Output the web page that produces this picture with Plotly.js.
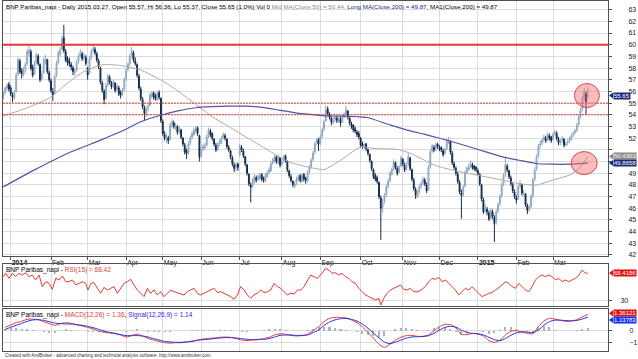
<!DOCTYPE html>
<html><head><meta charset="utf-8">
<script src="https://cdn.plot.ly/plotly-3.0.1.min.js"></script>
<style>html,body{margin:0;padding:0;background:#fff;}#chart{width:638px;height:359px;}</style>
</head><body><div id="chart"></div>
<script>
// ---- daily OHLC (trading days 2013-12-24 .. 2015-03-27) ----
const openP = [
55.6,55.9,56.3,56.6,56.3,55.7,55.4,56.0,57.5,58.6,
57.8,57.4,57.9,58.4,59.3,59.4,58.1,57.5,58.5,59.0,
58.3,57.1,57.6,58.6,58.7,57.6,56.9,56.0,55.9,57.4,
58.5,59.2,59.6,60.6,59.4,58.8,58.6,58.3,58.0,57.6,
57.8,58.6,59.1,59.2,58.9,58.9,58.0,57.6,58.9,59.5,
59.6,59.2,58.6,58.0,56.7,56.0,55.4,56.6,57.2,56.7,
56.5,56.7,56.2,56.3,55.9,55.8,56.2,57.1,57.9,58.4,
59.1,59.3,58.6,58.3,57.3,56.2,55.3,54.6,54.0,54.6,
54.8,55.6,55.9,55.6,55.3,55.9,55.4,53.4,52.3,51.9,
52.0,51.9,53.2,53.3,52.9,53.0,52.6,52.7,52.0,51.4,
50.9,50.8,51.6,52.1,52.3,52.6,52.9,52.2,50.5,51.1,
51.2,51.4,52.2,52.6,52.4,51.9,51.4,51.1,51.5,51.6,
52.1,52.2,51.9,51.2,50.9,50.3,49.7,49.5,49.8,50.6,
51.2,50.9,50.4,49.7,48.9,48.0,47.9,48.3,48.6,48.5,
48.6,48.9,48.6,48.3,48.7,49.1,49.2,49.9,50.0,50.4,
49.9,50.3,49.8,50.1,50.5,50.0,49.2,48.7,48.3,47.9,
48.2,48.4,48.8,48.3,48.9,48.6,48.3,49.1,49.6,50.2,
50.8,51.6,51.9,51.6,52.2,52.8,53.5,54.5,54.0,53.7,
53.3,53.6,53.7,53.4,53.6,53.4,53.9,54.1,54.3,53.7,
53.2,53.1,52.8,52.5,52.4,52.0,51.5,51.2,51.5,51.0,
50.6,50.0,49.3,48.8,48.6,48.2,46.9,46.1,46.6,47.2,
47.9,48.4,48.9,49.4,49.9,49.4,49.1,49.6,50.2,49.7,
49.4,49.8,50.3,49.3,48.4,47.6,47.0,47.4,47.9,48.2,
48.4,48.0,47.6,49.6,50.9,51.2,51.1,51.5,51.2,51.2,
50.9,50.7,51.1,51.6,51.7,50.7,49.8,49.4,48.9,48.2,
47.3,47.2,47.9,49.1,49.3,49.6,49.7,49.6,49.5,49.2,
48.9,48.0,46.7,45.8,45.9,45.6,45.2,45.7,45.2,44.8,
45.8,46.4,47.1,48.1,48.9,49.6,49.2,48.6,48.0,47.4,
46.9,46.8,47.9,48.0,47.2,47.2,46.2,45.9,46.2,47.1,
48.5,49.4,50.5,51.4,51.6,51.9,52.0,51.9,52.2,52.1,
51.9,52.4,52.4,51.9,51.6,51.8,51.9,51.4,51.6,51.8,
51.9,52.3,52.5,52.7,53.2,53.9,54.5,55.5,55.8,55.57];
const highP = [
56.0,56.4,56.7,56.8,56.5,55.9,56.1,57.6,58.9,58.8,
58.0,58.1,58.5,59.6,59.9,59.6,58.3,58.6,59.3,59.2,
58.4,57.8,58.9,59.1,58.8,57.8,57.1,56.3,57.5,58.6,
59.5,59.8,60.8,61.7,59.6,59.0,58.9,58.5,58.2,58.0,
58.7,59.2,59.6,59.4,59.3,59.1,58.1,59.0,59.6,60.0,
59.8,59.4,58.8,58.1,56.9,56.2,56.7,57.5,57.4,56.9,
57.0,56.8,56.7,56.5,56.1,56.3,57.2,58.0,58.5,59.2,
59.8,59.5,58.9,58.4,57.5,56.4,55.5,54.8,54.7,55.0,
55.9,56.0,56.0,55.8,56.0,56.1,55.5,53.6,52.6,52.4,
52.2,53.3,53.6,53.5,53.3,53.1,53.0,52.8,52.1,51.6,
51.1,51.7,52.2,52.6,52.9,53.0,53.0,52.3,51.2,51.5,
51.6,52.3,52.9,52.8,52.5,52.0,51.6,51.6,51.9,52.2,
52.5,52.4,52.0,51.4,51.0,50.5,49.9,49.9,49.9,51.5,
51.4,51.1,50.5,49.8,49.0,48.2,48.6,48.9,48.8,48.9,
49.0,49.0,48.7,49.0,49.2,49.5,50.0,50.3,50.6,50.5,
50.6,50.4,50.2,50.6,50.6,50.1,49.3,48.9,48.4,48.3,
48.7,48.9,48.9,49.0,49.0,48.7,49.2,49.7,50.3,50.9,
51.7,52.0,52.0,52.3,52.9,53.6,54.8,54.7,54.2,53.9,
53.8,54.0,53.9,53.9,53.8,54.0,54.2,54.8,54.4,53.8,
53.4,53.2,53.0,52.7,52.6,52.1,51.7,51.6,51.6,51.1,
50.7,50.1,49.4,49.0,48.8,48.3,47.1,46.8,47.3,48.0,
48.5,49.2,49.5,50.2,50.0,49.6,49.7,50.5,50.3,49.9,
49.9,50.7,50.4,49.4,48.6,47.8,47.5,48.0,48.3,48.7,
48.6,48.2,49.7,51.0,51.5,51.4,51.6,51.6,51.4,51.3,
51.1,51.2,51.9,52.1,51.8,50.9,50.0,49.6,49.1,48.4,
47.6,48.0,49.2,49.6,49.8,50.1,49.9,49.7,49.6,49.4,
49.0,48.1,46.9,46.3,46.1,45.8,46.0,45.9,45.4,45.9,
46.5,47.2,48.2,49.0,50.4,49.8,49.3,48.8,48.2,47.6,
47.1,48.0,48.4,48.1,47.6,47.3,46.4,46.3,47.2,48.6,
49.5,50.6,51.5,51.8,52.0,52.3,52.2,52.5,52.4,52.2,
52.5,52.7,52.6,52.1,51.9,52.2,52.0,51.7,51.9,52.1,
52.4,52.6,52.8,53.3,54.0,54.6,55.6,56.3,56.0,56.36];
const lowP = [
55.3,55.8,56.1,56.0,55.6,55.1,55.3,55.9,57.3,57.5,
57.1,57.3,57.6,58.2,59.0,57.8,57.2,57.4,58.3,58.2,
56.8,56.9,57.5,58.3,57.5,56.8,55.9,55.2,55.8,57.2,
58.3,59.0,59.5,59.3,58.5,58.2,58.1,57.8,57.4,57.3,
57.7,58.4,58.9,58.6,58.7,58.2,57.0,57.5,58.7,59.3,
59.1,58.5,57.9,56.6,55.9,54.9,55.3,56.4,56.6,56.2,
56.3,55.9,56.0,55.6,55.4,55.6,56.0,56.9,57.7,58.2,
58.9,58.5,58.2,57.2,56.1,55.2,54.5,53.5,53.8,54.3,
54.7,55.4,55.3,55.2,55.2,55.3,53.3,52.2,51.8,51.6,
51.5,51.8,52.9,52.8,52.7,52.3,52.4,51.9,51.3,50.6,
50.2,50.6,51.4,51.9,52.2,52.4,52.2,50.0,50.3,50.9,
51.0,51.3,52.0,52.1,51.8,51.3,50.8,50.9,51.3,51.5,
51.9,51.8,51.1,50.8,50.2,49.6,49.1,49.2,49.2,50.4,
50.8,50.3,49.6,48.8,47.9,46.5,47.7,48.1,48.2,48.3,
48.4,48.3,48.2,48.2,48.6,48.9,49.1,49.7,49.9,49.8,
49.8,49.5,49.6,49.9,49.9,49.1,48.6,48.2,47.8,47.7,
48.0,48.3,48.2,48.2,48.3,48.1,48.2,48.9,49.4,50.0,
50.6,51.4,50.9,51.4,52.0,52.6,53.4,53.9,53.6,53.1,
53.2,53.4,53.3,53.3,53.0,53.3,53.7,54.0,53.6,53.1,
52.8,52.5,52.4,52.1,51.9,51.2,51.1,51.1,50.9,50.5,
49.9,49.2,48.5,48.3,48.1,46.8,43.3,45.6,46.4,47.0,
47.7,48.2,48.8,49.2,49.3,48.8,49.0,49.5,49.6,49.1,
49.2,49.6,49.2,48.3,47.5,46.8,46.9,47.2,47.7,48.0,
47.9,47.3,47.5,49.4,50.7,50.8,50.9,51.1,50.9,50.8,
50.4,50.6,51.0,51.5,50.6,49.7,49.3,48.8,48.1,47.2,
45.1,47.0,47.8,48.9,49.2,49.4,49.3,49.2,49.1,48.8,
47.9,46.6,45.5,45.6,45.4,44.9,45.0,45.1,43.1,44.6,
45.6,46.2,46.9,47.9,48.7,49.1,48.5,47.9,47.3,46.8,
46.4,46.7,47.7,47.1,47.0,46.1,45.5,45.7,46.0,46.9,
48.3,49.2,50.3,51.1,51.4,51.7,51.6,51.7,51.8,51.6,
51.8,52.2,51.8,51.4,51.4,51.6,51.2,51.3,51.4,51.6,
51.8,52.1,52.3,52.5,53.0,53.7,54.3,55.2,54.0,55.37];
const closeP = [
55.8,56.3,56.5,56.2,55.8,55.5,55.9,57.4,58.7,57.7,
57.5,57.8,58.3,59.4,59.5,58.0,57.4,58.4,59.1,58.4,
57.0,57.5,58.7,58.8,57.7,57.0,56.1,55.7,57.3,58.4,
59.3,59.5,60.5,59.5,58.7,58.5,58.4,58.1,57.7,57.7,
58.5,59.0,59.3,58.8,59.0,58.4,57.4,58.8,59.4,59.7,
59.3,58.7,58.1,56.8,56.1,55.3,56.5,57.3,56.8,56.4,
56.8,56.1,56.4,55.8,55.7,56.1,57.0,57.8,58.3,59.0,
59.4,58.7,58.4,57.4,56.3,55.4,54.7,54.1,54.5,54.7,
55.7,55.8,55.5,55.4,55.8,55.5,53.5,52.4,52.0,52.1,
51.8,53.1,53.4,53.0,53.1,52.5,52.8,52.1,51.5,50.8,
50.7,51.5,52.0,52.4,52.7,52.8,52.4,50.4,51.0,51.3,
51.3,52.1,52.7,52.3,52.0,51.5,51.0,51.4,51.7,52.0,
52.3,52.0,51.3,51.0,50.4,49.8,49.4,49.7,49.5,51.3,
51.0,50.5,49.8,49.0,48.1,47.8,48.4,48.7,48.4,48.7,
48.8,48.5,48.4,48.8,49.0,49.3,49.8,50.1,50.3,50.0,
50.4,49.7,50.0,50.4,50.1,49.3,48.8,48.4,48.0,48.1,
48.5,48.7,48.4,48.8,48.5,48.4,49.0,49.5,50.1,50.7,
51.5,51.8,51.5,52.1,52.7,53.4,54.4,54.1,53.8,53.4,
53.5,53.8,53.5,53.7,53.3,53.8,54.0,54.4,53.8,53.3,
53.0,52.7,52.6,52.3,52.1,51.4,51.3,51.4,51.1,50.7,
50.1,49.4,48.7,48.5,48.3,47.0,46.0,46.5,47.1,47.8,
48.3,49.0,49.3,50.0,49.5,49.0,49.5,50.3,49.8,49.3,
49.7,50.4,49.4,48.5,47.7,47.1,47.3,47.8,48.1,48.5,
48.1,47.5,49.5,50.8,51.3,51.0,51.4,51.3,51.1,51.0,
50.6,51.0,51.7,51.8,50.8,49.9,49.5,49.0,48.3,47.4,
47.1,47.8,49.0,49.4,49.5,49.8,49.5,49.4,49.3,49.0,
48.1,46.8,45.7,46.0,45.7,45.1,45.8,45.3,44.7,45.7,
46.3,47.0,48.0,48.8,49.7,49.3,48.7,48.1,47.5,47.0,
46.7,47.8,48.1,47.3,47.3,46.3,45.8,46.1,47.0,48.4,
49.3,50.4,51.3,51.5,51.8,52.1,51.8,52.3,52.0,51.8,
52.3,52.5,52.0,51.6,51.7,52.0,51.4,51.5,51.7,51.9,
52.2,52.4,52.6,53.1,53.8,54.4,55.4,55.9,55.1,55.65];

// ---- moving averages (trading-day position, value) ----
const ma50X = [0,9.5,16.7,25.8,34.9,44,53.1,58.6,65.9,75,86.8,95.9,105,114,123.2,132.3,141.4,150.5,157,165.9,175,184.1,195,202.4,215.1,222.4,233.3,237,245.1,254.2,263.3,272.4,281.5,290.6,299.7,308.8,314.3,319];
const ma50 = [53.9,54.4,54.83,55.5,56.7,57.7,58.26,58.3,58.17,57.83,56.91,55.97,54.89,53.83,52.97,52.11,51.26,50.4,49.9,49.54,49.31,50.11,51.26,51.11,51.03,50.69,49.83,49.6,49.26,48.97,48.69,48.4,48.11,47.97,48.4,48.83,49.4,50.4363];
const ma200X = [0,16.7,34.9,53.1,65.9,75,86.8,95.9,105,114,123.2,132.3,141.4,150.5,159.6,165.9,175,184.1,193.2,198.7,211.4,220.5,229.6,238.7,245.1,254.2,263.3,272.4,281.5,290.6,299.7,308.8,319];
const ma200 = [47.83,49.26,50.69,51.83,52.69,53.4,54.0,54.35,54.6,54.69,54.74,54.74,54.63,54.4,54.17,54.06,53.91,53.89,53.83,53.77,53.11,52.69,52.34,51.97,51.69,51.26,50.83,50.4,50.11,49.83,49.77,49.77,49.8658];

// ---- RSI(15) ----
const rsiX = [0,1.3,3.1,4.9,6.7,8.5,10.4,12.2,14,15.8,17.6,19.5,21.3,23.1,24.9,26.7,28.6,30.4,32.2,34,35.8,37.7,39.5,41.3,43.1,44.9,46.2,47.7,49.5,51.3,53.1,54.9,56.8,58.6,60.4,62.2,64,65.9,67.7,69.5,71.3,73.1,75,76.8,78.6,80.4,82.2,84,85.9,87.7,89.5,91.3,93.2,95,96.8,98.6,100.4,102.3,104.1,105.9,107.7,109.5,111.4,113.2,115,116.8,118.6,120.4,122.3,124.1,125.9,127.7,129.5,131.4,133.2,135,136.8,138.6,140.5,142.3,144.1,145.9,147.7,149.6,151.4,153.2,155,156.8,158.7,160.5,162.3,164.1,165.9,167.7,169.6,171.4,173.9,175.8,177.6,179.4,181.2,183,184.9,186.7,188.5,190.3,192.1,194,195.8,197.6,199.4,201.2,203.1,204.9,206,207.6,209.4,211.2,213,214.9,216.7,218.5,220.3,222.1,224,226.7,228.5,230.3,232.2,234,235.8,237.6,239.4,241.3,243.1,244.9,246.7,248.5,250.4,252.2,254,255.8,257.6,259.5,261.3,263.1,264.9,266.7,268.6,270.4,272.2,274,275.8,277.7,279.5,281.3,283.1,284.9,286.8,288.6,290.4,292.2,294,295.8,297.7,299.5,301.3,303.1,305,306.8,308.6,310.4,312.2,314.1,315.9,317.7,319];
const rsi = [63.3,68.0,61.0,68.0,63.3,68.0,65.6,68.9,63.3,65.6,58.7,65.6,49.5,56.4,54.1,45.8,61.0,58.7,64.3,56.4,56.4,58.7,51.8,54.1,56.4,54.1,44.8,54.1,55.0,47.2,40.2,48.5,44.8,47.2,49.5,40.2,47.2,54.1,56.4,59.6,51.8,44.8,40.2,35.6,47.2,40.2,44.8,37.9,42.5,35.6,40.2,44.8,42.5,41.2,39.3,37.9,42.5,44.8,47.2,40.2,37.9,40.2,42.5,44.8,47.2,41.2,42.5,40.2,37.9,35.6,31.9,37.9,49.5,44.8,37.9,33.3,37.9,40.2,44.8,41.2,42.5,44.8,54.1,49.5,47.2,42.5,37.9,40.2,39.3,44.8,44.8,49.5,58.7,65.6,63.3,61.0,68.0,74.9,72.6,68.0,68.9,65.6,68.0,63.3,61.0,56.4,54.1,47.2,42.5,37.9,35.6,33.3,31.0,33.3,24.0,33.3,40.2,44.8,47.2,49.5,51.8,45.8,44.8,47.2,42.5,42.5,45.8,49.5,56.4,61.0,59.6,62.4,56.4,58.7,54.1,49.5,44.8,37.9,42.5,47.2,44.8,49.5,44.8,40.2,35.6,37.9,40.2,41.2,44.8,47.2,51.8,56.4,54.1,49.5,47.2,54.1,49.5,44.8,42.5,49.5,58.7,63.3,65.6,63.3,65.6,63.3,58.7,61.0,56.4,58.7,56.4,58.7,61.0,65.6,72.6,68.0,68.4186];

// ---- MACD(12,26) and Signal(12,26,9), every 3rd trading day ----
const macd = [0.28,0.47,0.67,0.78,0.95,0.97,0.92,0.75,0.59,0.45,0.59,0.67,0.61,0.50,0.39,0.28,0.14,-0.03,-0.14,-0.19,-0.25,-0.36,-0.53,-0.41,-0.28,-0.44,-0.64,-0.78,-0.89,-1.00,-1.03,-1.00,-1.00,-0.94,-0.86,-0.78,-0.69,-0.64,-0.61,-0.55,-0.53,-0.55,-0.66,-0.78,-0.83,-0.78,-0.75,-0.66,-0.55,-0.36,-0.25,-0.30,-0.39,-0.44,-0.41,-0.30,0.00,0.34,0.75,1.03,1.11,1.11,1.06,0.89,0.67,0.31,-0.16,-0.61,-1.14,-1.39,-1.11,-0.78,-0.55,-0.41,-0.39,-0.47,-0.47,-0.36,0.00,0.34,0.53,0.50,0.23,-0.30,-0.33,-0.22,-0.28,-0.44,-0.83,-0.97,-0.80,-0.36,-0.05,0.00,-0.11,-0.22,-0.25,0.34,0.81,1.03,0.97,0.86,0.78,0.81,0.92,1.14,1.36121];
const signal = [0.11,0.28,0.45,0.61,0.78,0.89,0.92,0.86,0.75,0.64,0.59,0.56,0.56,0.50,0.45,0.36,0.25,0.11,-0.03,-0.14,-0.22,-0.33,-0.41,-0.41,-0.41,-0.44,-0.53,-0.66,-0.78,-0.89,-0.94,-0.97,-0.97,-0.94,-0.89,-0.80,-0.75,-0.72,-0.66,-0.61,-0.58,-0.58,-0.61,-0.66,-0.72,-0.75,-0.72,-0.72,-0.66,-0.53,-0.39,-0.36,-0.36,-0.39,-0.39,-0.36,-0.16,0.06,0.45,0.72,0.90,1.00,1.02,0.95,0.80,0.55,0.20,-0.20,-0.60,-0.95,-1.08,-0.95,-0.78,-0.62,-0.52,-0.50,-0.48,-0.42,-0.22,0.05,0.28,0.36,0.30,0.05,-0.15,-0.22,-0.26,-0.35,-0.55,-0.75,-0.82,-0.65,-0.38,-0.18,-0.10,-0.12,-0.15,0.05,0.45,0.75,0.88,0.88,0.84,0.82,0.86,0.97,1.13783];

const levels = [60, 55, 54];
const holidays = ['2013-12-25','2013-12-26','2014-01-01','2014-04-18','2014-04-21','2014-05-01','2014-12-25','2014-12-26','2015-01-01'];
const monthNames = ['Jan','Feb','Mar','Apr','May','Jun','Jul','Aug','Sep','Oct','Nov','Dec'];

// ---- trading calendar -> x positions and month ticks ----
const dates = [];
for (let t = Date.UTC(2013,11,24); t <= Date.UTC(2015,2,27); t += 86400000) {
  const d = new Date(t), wd = d.getUTCDay(), s = d.toISOString().slice(0,10);
  if (wd !== 0 && wd !== 6 && !holidays.includes(s)) dates.push(s);
}
const xIdx = closeP.map((_, i) => i);
const tickvals = [], ticktext = [];
for (let i = 1; i < dates.length; i++) {
  if (dates[i].slice(5,7) !== dates[i-1].slice(5,7)) {
    const m = +dates[i].slice(5,7);
    tickvals.push(i);
    ticktext.push(m === 1 ? '<b>' + dates[i].slice(0,4) + '</b>' : monthNames[m-1]);
  }
}
const macdX = macd.map((_, j) => 1 + 3*j);
const hist = macd.map((v, j) => v - signal[j]);

const N = closeP.length - 1;
const lastC = closeP[N], prevC = closeP[N-1];
const pct = ((lastC/prevC - 1)*100).toFixed(1);
const lastDate = dates[N].replace(/-/g,'.');
const ma50L = ma50[ma50.length-1], ma200L = ma200[ma200.length-1];

// price axis ticks (labels hidden where a value tag covers them)
const pTicks = [], pText = [];
for (let v = 42; v <= 63; v++) {
  pTicks.push(v);
  pText.push((Math.abs(v - ma50L) < 0.6 || Math.abs(v - ma200L) < 0.6) ? '' : String(v));
}

const F = '"Liberation Sans Narrow", "Arial Narrow", "Liberation Sans", Arial, sans-serif';
const GRID = '#dcdcdc', AX = '#505050';
const UPF = '#b7c9da', UPL = '#8ea6bf', DN = '#122c4e';
const RED = '#e23b35', BLUE = '#2b2bd8', NAVY = '#1b2a7a';

const traces = [
  {type:'candlestick', x:xIdx, open:openP, high:highP, low:lowP, close:closeP, xaxis:'x', yaxis:'y',
   increasing:{line:{color:UPL, width:1}, fillcolor:UPF}, decreasing:{line:{color:DN, width:1}, fillcolor:DN},
   whiskerwidth:0, hoverinfo:'skip'},
  {type:'scatter', mode:'lines', x:ma50X, y:ma50, xaxis:'x', yaxis:'y', line:{color:'#b3a99f', width:1, shape:'spline', smoothing:0.5}, hoverinfo:'skip'},
  {type:'scatter', mode:'lines', x:ma200X, y:ma200, xaxis:'x', yaxis:'y', line:{color:'#5553a6', width:1.2, shape:'spline', smoothing:0.5}, hoverinfo:'skip'},
  {type:'scatter', mode:'lines', x:rsiX, y:rsi, xaxis:'x2', yaxis:'y2', line:{color:RED, width:1}, hoverinfo:'skip'},
  {type:'bar', x:macdX, y:hist, xaxis:'x3', yaxis:'y3', width:1.1, marker:{color:'#a9b3c6', line:{width:0}}, hoverinfo:'skip'},
  {type:'scatter', mode:'lines', x:macdX, y:macd, xaxis:'x3', yaxis:'y3', line:{color:RED, width:1, shape:'spline', smoothing:0.6}, hoverinfo:'skip'},
  {type:'scatter', mode:'lines', x:macdX, y:signal, xaxis:'x3', yaxis:'y3', line:{color:BLUE, width:1, shape:'spline', smoothing:0.6}, hoverinfo:'skip'}
];

const xBase = {range:[-0.2, 330], tickvals:tickvals, showgrid:true, gridcolor:GRID, gridwidth:1, zeroline:false,
  showline:true, linecolor:AX, linewidth:1, mirror:true, fixedrange:true, automargin:false};
const yBase = {side:'right', showgrid:true, gridcolor:GRID, zeroline:false, showline:true, linecolor:AX, mirror:true,
  ticks:'outside', ticklen:3, tickcolor:AX, tickfont:{size:7, color:'#222'}, fixedrange:true, automargin:false};

const layout = {
  width:638, height:359, margin:{l:3, r:30, t:1, b:8, autoexpand:false}, paper_bgcolor:'#fff', plot_bgcolor:'#fff',
  showlegend:false, font:{family:F, size:7, color:'#000'}, bargap:0,
  xaxis: Object.assign({}, xBase, {anchor:'y', ticktext:ticktext, ticks:'outside', ticklen:3, tickcolor:AX,
    ticklabelposition:'outside right', tickfont:{size:7, color:'#222'}, rangeslider:{visible:false}}),
  xaxis2: Object.assign({}, xBase, {anchor:'y2', matches:'x', showticklabels:false, ticks:''}),
  xaxis3: Object.assign({}, xBase, {anchor:'y3', matches:'x', showticklabels:false, ticks:''}),
  yaxis: Object.assign({}, yBase, {domain:[0.2714, 1], range:[41.91, 63.74], tickvals:pTicks, ticktext:pText, ticklabelstandoff:15}),
  yaxis2: Object.assign({}, yBase, {domain:[0.1286, 0.2486], range:[22.65, 80.9], tickvals:[30], ticklabelstandoff:7}),
  yaxis3: Object.assign({}, yBase, {domain:[0, 0.12], range:[-1.692, 1.808], tickvals:[-1, 0], ticklabelstandoff:16}),
  shapes: [], annotations: []
};

// horizontal level lines
levels.forEach((lv, i) => layout.shapes.push({type:'line', xref:'paper', yref:'y', x0:0, x1:1, y0:lv, y1:lv, layer:'above',
  line: i === 0 ? {color:RED, width:2} : {color:RED, width:1, dash:'2px,1px'}}));

// highlight circles
layout.shapes.push({type:'circle', xref:'x', yref:'y', xsizemode:'pixel', ysizemode:'pixel', xanchor:N - 0.5, yanchor:lastC,
  x0:-12.5, x1:12.5, y0:-12, y1:12, fillcolor:'rgba(240,110,110,0.45)', line:{color:'#e04545', width:1}});
layout.shapes.push({type:'circle', xref:'x', yref:'y', xsizemode:'pixel', ysizemode:'pixel', xanchor:N - 2, yanchor:ma200L,
  x0:-13, x1:13, y0:-11.5, y1:11.5, fillcolor:'rgba(240,110,110,0.45)', line:{color:'#e04545', width:1}});

// value tags on the right
function tag(val, yref, text, bg, fc, dy) {
  dy = dy || 0;
  layout.shapes.push({type:'path', xref:'paper', yref:yref, xsizemode:'pixel', ysizemode:'pixel', xanchor:1, yanchor:val,
    path:'M1,' + (-dy) + ' L5,' + (-dy+3) + ' L5,' + (-dy-3) + ' Z', fillcolor:bg, line:{width:0}});
  layout.annotations.push({xref:'paper', yref:yref, x:1, y:val, xanchor:'left', yanchor:'middle', xshift:5, yshift:-dy,
    text:text, showarrow:false, bgcolor:bg, borderpad:0, font:{size:6, color:fc, family:F}});
}
tag(lastC, 'y', lastC.toFixed(2), NAVY, '#fff');
tag(ma50L, 'y', ma50L.toFixed(4), '#8a8a8a', '#fff');
tag(ma200L, 'y', ma200L.toFixed(4), NAVY, '#fff');
tag(rsi[rsi.length-1], 'y2', rsi[rsi.length-1].toFixed(4), '#e01010', '#fff');
tag(macd[macd.length-1], 'y3', macd[macd.length-1].toFixed(5), '#e01010', '#fff', -1);
tag(signal[signal.length-1], 'y3', signal[signal.length-1].toFixed(5), '#1530f0', '#fff', 3);

// titles
const lastO = openP[N], lastH = highP[N], lastL = lowP[N];
layout.annotations.push({xref:'paper', yref:'paper', x:0, y:1, xanchor:'left', yanchor:'top', xshift:1, yshift:0, showarrow:false,
  font:{size:6.2, family:F, color:'#000'},
  text:'BNP Paribas_napi - Daily ' + lastDate + '. Open ' + lastO.toFixed(2) + ', Hi ' + lastH.toFixed(2) + ', Lo ' + lastL.toFixed(2) +
    ', Close ' + lastC.toFixed(2) + ' (' + pct + '%) Vol 0 ' +
    '<span style="color:#8c8c8c">Mid MA(Close,50) = ' + ma50L.toFixed(2) + ', </span>' +
    '<span style="color:' + NAVY + '">Long MA(Close,200) = ' + ma200L.toFixed(2) + ', </span>' +
    'MA1(Close,200) = ' + ma200L.toFixed(2)});
layout.annotations.push({xref:'paper', yref:'paper', x:0, y:0.2486, xanchor:'left', yanchor:'top', xshift:1, yshift:0, showarrow:false,
  font:{size:6.5, family:F, color:'#000'},
  text:'BNP Paribas_napi - <span style="color:' + RED + '">RSI(15) = ' + rsi[rsi.length-1].toFixed(2) + '</span>'});
layout.annotations.push({xref:'paper', yref:'paper', x:0, y:0.12, xanchor:'left', yanchor:'top', xshift:1, yshift:0, showarrow:false,
  font:{size:6.5, family:F, color:'#000'},
  text:'BNP Paribas_napi - <span style="color:' + RED + '">MACD(12,26) = ' + macd[macd.length-1].toFixed(2) + '</span>, ' +
    '<span style="color:' + BLUE + '">Signal(12,26,9) = ' + signal[signal.length-1].toFixed(2) + '</span>'});
layout.annotations.push({xref:'paper', yref:'paper', x:0, y:-0.014, xanchor:'left', yanchor:'middle', xshift:0, showarrow:false,
  font:{size:4.5, family:F, color:'#333'},
  text:'Created with AmiBroker - advanced charting and technical analysis software. http://www.amibroker.com'});

Plotly.newPlot('chart', traces, layout, {displayModeBar:false, staticPlot:true});
</script></body></html>
